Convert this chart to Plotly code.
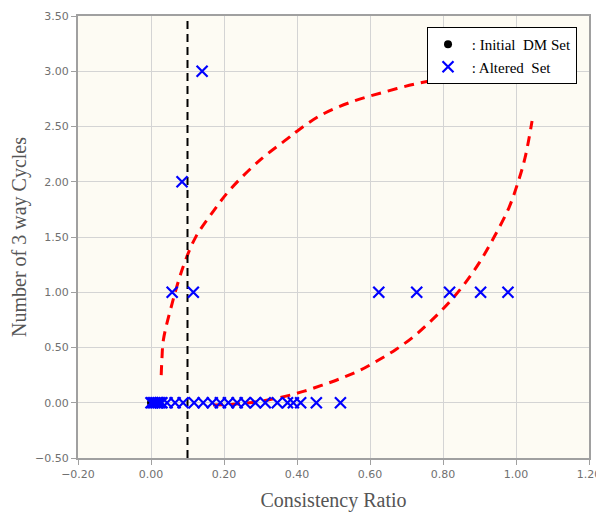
import plotly.graph_objects as go

# Altered set points (Consistency Ratio, Number of 3-way cycles)
alt_x = [0.0, 0.005, 0.01, 0.015, 0.02, 0.025, 0.03, 0.044, 0.066, 0.088, 0.118, 0.143,
         0.168, 0.19, 0.212, 0.236, 0.258, 0.286, 0.313, 0.346, 0.374, 0.39, 0.41, 0.453, 0.519,
         0.058, 0.116, 0.085, 0.14,
         0.624, 0.728, 0.818, 0.903, 0.978, 1.075]
alt_y = [0]*25 + [1, 1, 2, 3] + [1, 1, 1, 1, 1, 3]

# Initial DM set (hidden under the altered-set crosses)
init_x = [0.0]
init_y = [0.0]

# Threshold line
thr_x = [0.1, 0.1]
thr_y = [-0.5, 3.5]

# Red dashed curves
c1_x = [0.028, 0.030, 0.034, 0.058, 0.088, 0.121, 0.17, 0.217, 0.30, 0.374, 0.401,
        0.464, 0.547, 0.637, 0.731, 0.813, 0.90, 0.97]
c1_y = [0.25, 0.40, 0.57, 0.90, 1.23, 1.49, 1.73, 1.93, 2.20, 2.39, 2.46,
        2.60, 2.72, 2.81, 2.89, 2.94, 2.97, 2.98]
c2_x = [0.17, 0.22, 0.27, 0.32, 0.37, 0.42, 0.47, 0.52, 0.57, 0.62, 0.67, 0.72,
        0.77, 0.82, 0.86, 0.90, 0.94, 0.98, 1.005, 1.025, 1.044]
c2_y = [-0.02, -0.015, 0.0, 0.025, 0.06, 0.105, 0.16, 0.22, 0.29, 0.38, 0.48, 0.60,
        0.75, 0.92, 1.08, 1.27, 1.50, 1.76, 1.99, 2.22, 2.55]

x_ticks = [-0.2, 0.0, 0.2, 0.4, 0.6, 0.8, 1.0, 1.2]
y_ticks = [-0.5, 0.0, 0.5, 1.0, 1.5, 2.0, 2.5, 3.0, 3.5]

fig = go.Figure()
fig.add_trace(go.Scatter(x=c1_x, y=c1_y, mode="lines", line=dict(color="#ff0000", width=3, dash="10px,7px", shape="spline"),
                         showlegend=False, hoverinfo="skip"))
fig.add_trace(go.Scatter(x=c2_x, y=c2_y, mode="lines", line=dict(color="#ff0000", width=3, dash="10px,7px", shape="spline"),
                         showlegend=False, hoverinfo="skip"))
fig.add_trace(go.Scatter(x=thr_x, y=thr_y, mode="lines", line=dict(color="#000000", width=2, dash="8px,5px"),
                         showlegend=False, hoverinfo="skip"))
fig.add_trace(go.Scatter(x=init_x, y=init_y, mode="markers", name="\u00a0: Initial\u00a0\u00a0DM Set",
                         marker=dict(symbol="circle", size=8, color="#000000")))
fig.add_trace(go.Scatter(x=alt_x, y=alt_y, mode="markers", name="\u00a0: Altered\u00a0 Set",
                         marker=dict(symbol="x-thin", size=11, color="#0000ff",
                                     line=dict(width=2.2, color="#0000ff"))))

axis_common = dict(
    automargin=False,
    showgrid=True, gridcolor="#d4d4d4", gridwidth=1,
    zeroline=False, showline=True, linecolor="#a0a0a0", linewidth=2, mirror=True,
    ticks="outside", ticklen=5, tickcolor="#a0a0a0",
    tickfont=dict(family="DejaVu Sans", size=11, color="#707070"),
    tickformat=".2f",
)
fig.update_xaxes(range=[-0.2, 1.2], tickvals=x_ticks, **axis_common,
                 title=dict(text="Consistency Ratio", font=dict(family="Liberation Serif", size=20, color="#555555"),
                            standoff=13))
fig.update_yaxes(range=[-0.5, 3.5], tickvals=y_ticks, **axis_common,
                 title=dict(text="Number of 3 way Cycles", font=dict(family="Liberation Serif", size=20, color="#555555"),
                            standoff=6))

# The page adds an 8px body margin, so the figure is sized/margined to compensate.
fig.update_layout(
    width=596, height=505,
    margin=dict(l=70, r=15, t=8, b=55),
    paper_bgcolor="#ffffff", plot_bgcolor="#fdfbf3",
    legend=dict(x=0.683, y=0.975, xanchor="left", yanchor="top",
                bgcolor="#ffffff", bordercolor="#000000", borderwidth=1,
                font=dict(family="Liberation Serif", size=15, color="#000000"),
                itemwidth=30, tracegroupgap=0),
    showlegend=True,
)

fig.write_html("out.html")
